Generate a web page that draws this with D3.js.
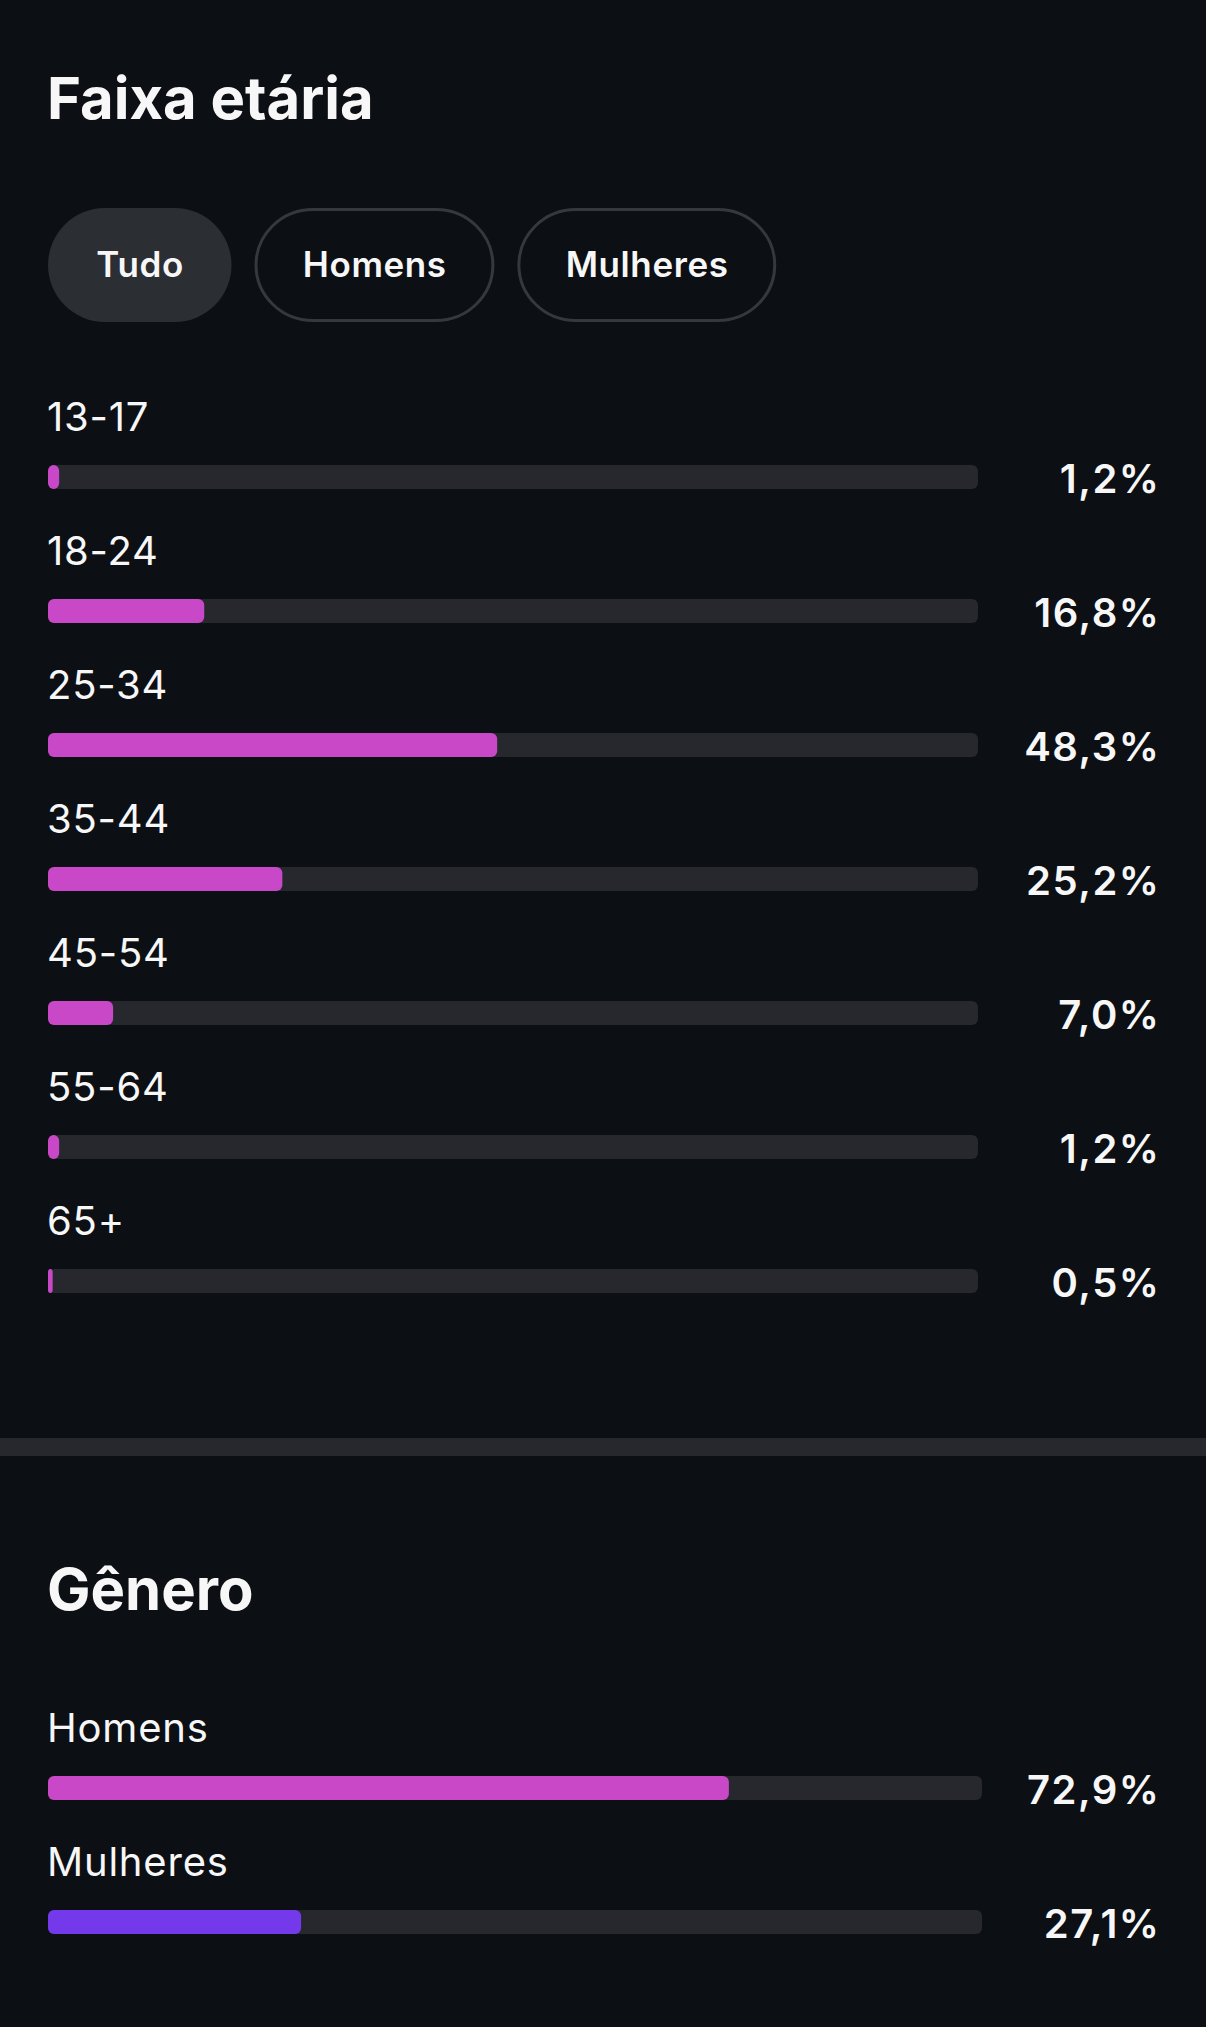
<!DOCTYPE html>
<html>
<head>
<meta charset="utf-8">
<script src="https://cdn.jsdelivr.net/npm/d3@7"></script>
<style>
  html, body { margin: 0; padding: 0; background: #0c0f14; }
  svg { display: block; }
  text { font-family: Inter, "Noto Sans", Roboto, sans-serif; fill: #f7f7f7; }
</style>
</head>
<body>
<svg id="chart" width="1206" height="2027"></svg>
<script>
// ---- data ----
const ageTitle = "Faixa etária";
const filterButtons = ["Tudo", "Homens", "Mulheres"];
const ageCategories = ["13-17", "18-24", "25-34", "35-44", "45-54", "55-64", "65+"];
const ageValues = [1.2, 16.8, 48.3, 25.2, 7.0, 1.2, 0.5];
const genderTitle = "Gênero";
const genderCategories = ["Homens", "Mulheres"];
const genderValues = [72.9, 27.1];
const genderColors = ["#c848c8", "#7339ea"];

const fmt = v => v.toFixed(1).replace(".", ",") + "%";

const svg = d3.select("#chart");
const W = 1206, H = 2027;
svg.append("rect").attr("width", W).attr("height", H).attr("fill", "#0c0f14");

const left = 48;
const valueRight = 1159;
const trackColor = "#26282d";
const ageColor = "#c848c8";

// ---- title ----
svg.append("text").attr("x", left - 1).attr("y", 119)
  .attr("font-size", 58).attr("font-weight", 700).attr("letter-spacing", 0)
  .text(ageTitle);

// ---- filter pills ----
const pillG = svg.append("g");
let px = left;
const pillY = 208, pillH = 114;
filterButtons.forEach((b, i) => {
  const g = pillG.append("g");
  const t = g.append("text").attr("y", pillY + pillH / 2 + 12)
    .attr("font-size", 35).attr("font-weight", 600).attr("letter-spacing", 0.6)
    .attr("text-anchor", "middle").text(b);
  const tw = t.node().getComputedTextLength();
  const w = tw + 96;
  g.insert("rect", "text").attr("x", i === 0 ? px : px + 1.5).attr("y", i === 0 ? pillY : pillY + 1.5)
    .attr("width", i === 0 ? w : w - 3).attr("height", i === 0 ? pillH : pillH - 3)
    .attr("rx", pillH / 2)
    .attr("fill", i === 0 ? "#2b2e33" : "none")
    .attr("stroke", i === 0 ? "none" : "#36383d").attr("stroke-width", 3);
  t.attr("x", px + w / 2 + 0.3);
  px += w + 23;
});

// ---- bar section helper ----
function drawBars(cats, vals, colors, top, trackW) {
  const y = d3.scaleBand().domain(cats).range([top, top + cats.length * 134]).paddingInner(0);
  const x = d3.scaleLinear().domain([0, 100]).range([0, trackW]);
  const g = svg.append("g");
  const rows = g.selectAll("g.row").data(cats).join("g").attr("class", "row");
  rows.append("text").attr("x", left - 1).attr("y", d => y(d) - 34)
    .attr("font-size", 40).attr("font-weight", 400).attr("letter-spacing", 0.8).text(d => d);
  rows.append("rect").attr("x", left).attr("y", d => y(d)).attr("width", trackW).attr("height", 24)
    .attr("rx", 6).attr("fill", trackColor);
  rows.append("rect").attr("x", left).attr("y", d => y(d))
    .attr("width", (d, i) => Math.max(x(vals[i]), 4)).attr("height", 24)
    .attr("rx", (d, i) => Math.min(6, x(vals[i]) / 2 + 1)).attr("fill", (d, i) => colors[i]);
  rows.append("text").attr("x", valueRight + 1.5).attr("y", d => y(d) + 28)
    .attr("text-anchor", "end").attr("font-size", 40).attr("font-weight", 600).attr("letter-spacing", 1.5)
    .text((d, i) => fmt(vals[i]));
}

drawBars(ageCategories, ageValues, ageCategories.map(() => ageColor), 465, 930);

// ---- divider ----
svg.append("rect").attr("x", 0).attr("y", 1438).attr("width", W).attr("height", 18).attr("fill", trackColor);

// ---- gender ----
svg.append("text").attr("x", left - 1).attr("y", 1610)
  .attr("font-size", 58).attr("font-weight", 700).attr("letter-spacing", 0)
  .text(genderTitle);

drawBars(genderCategories, genderValues, genderColors, 1776, 934);
</script>
</body>
</html>
